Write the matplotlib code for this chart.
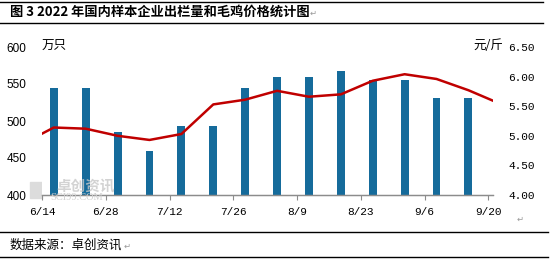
import matplotlib
matplotlib.use("Agg")
import matplotlib.pyplot as plt
import numpy as np
from datetime import date

plt.rcParams['font.family'] = ['Noto Sans CJK SC', 'DejaVu Sans']

# ---- data ----
title = "图 3 2022 年国内样本企业出栏量和毛鸡价格统计图"
source = "数据来源：卓创资讯"
left_unit = "万只"
right_unit = "元/斤"
tick_labels = ["6/14", "6/28", "7/12", "7/26", "8/9", "8/23", "9/6", "9/20"]
tick_dates = [(6, 14), (6, 28), (7, 12), (7, 26), (8, 9), (8, 23), (9, 6), (9, 20)]
bar_dates = [(6, 17), (6, 24), (7, 1), (7, 8), (7, 15), (7, 22), (7, 29),
             (8, 5), (8, 12), (8, 19), (8, 26), (9, 2), (9, 9), (9, 16)]
output = [544, 544, 485, 459, 493, 493, 545, 559, 559, 567, 555, 555, 531, 531]
line_dates = [(6, 10)] + bar_dates + [(9, 23)]
price = [4.86, 5.14, 5.12, 5.00, 4.93, 5.03, 5.53, 5.61, 5.76, 5.66, 5.70,
         5.93, 6.04, 5.96, 5.77, 5.54]
left_ticks = [400, 450, 500, 550, 600]
right_ticks = [4.00, 4.50, 5.00, 5.50, 6.00, 6.50]

base = date(2022, 6, 14)
def days(md):
    return (date(2022, md[0], md[1]) - base).days

shift = -0.4  # bar/point placement offset within the day
bx = np.array([days(d) for d in bar_dates]) + shift
lx = np.array([days(d) for d in line_dates]) + shift
tx = [days(d) for d in tick_dates]

W, H = 551, 261
fig = plt.figure(figsize=(W / 100, H / 100), dpi=100)
ax = fig.add_axes([42 / W, 1 - 195 / H, (493 - 42) / W, (195 - 47) / H])
ax2 = ax.twinx()

bar_color = '#156B9B'
ax.bar(bx, output, width=1.75, color=bar_color, zorder=2)
ax.set_ylim(400, 600)
ax.set_xlim(0, 99)
ax.set_yticks(left_ticks)
ax.set_yticklabels([str(v) for v in left_ticks], family='Liberation Sans', fontsize=8.5)
ax.tick_params(axis='y', length=0, pad=11)
ax.set_xticks(tx)
ax.set_xticklabels(tick_labels, family='Liberation Mono', fontsize=8)
ax.tick_params(axis='x', length=3.5, color='#8c8c8c', pad=5, width=0.8)

ax2.plot(lx, price, color='#C00000', lw=1.8, zorder=3, clip_on=True)
ax2.set_ylim(4.0, 6.5)
ax2.set_yticks(right_ticks)
ax2.set_yticklabels([f"{v:.2f}" for v in right_ticks], family='Liberation Mono', fontsize=8)
ax2.tick_params(axis='y', length=0, pad=11)
ax2.set_xlim(0, 99)

for a in (ax, ax2):
    for s in ('top', 'left', 'right'):
        a.spines[s].set_visible(False)
    a.spines['bottom'].set_color('#8c8c8c')
    a.spines['bottom'].set_linewidth(0.9)

ax.set_zorder(1)
ax2.set_zorder(2)
ax2.patch.set_visible(False)

# units
fig.text(42 / W, 1 - 46 / H, left_unit, fontsize=9, va='center', ha='left')
fig.text(503 / W, 1 - 46 / H, right_unit, fontsize=9, va='center', ha='right')

# watermark
fig.add_artist(plt.Rectangle((30 / W, 1 - 198 / H), 12 / W, 16 / H,
                             transform=fig.transFigure, color='#dcdcdc', zorder=0))
fig.text(56 / W, 1 - 185 / H, "卓创资讯", fontsize=10.5, color='#c8c8c8', alpha=0.8,
         va='center', ha='left', fontweight='bold')
fig.text(50 / W, 1 - 198 / H, "SCI99.COM", fontsize=7.5, color='#d0d0d0',
         family='Liberation Serif', va='center', ha='left')

# title & source with rules
fig.text(10 / W, 1 - 12 / H, title, fontsize=9.5, fontweight='bold', va='center', ha='left')
fig.text(10 / W, 1 - 245 / H, source, fontsize=9, va='center', ha='left')
for y, x1 in [(2, 543), (22.5, 543), (232, 548), (257, 548)]:
    fig.add_artist(plt.Line2D([0, x1 / W], [1 - y / H, 1 - y / H], color='black', lw=1.0))

# paragraph marks
for (px, py) in [(310, 13), (124, 246), (517, 219)]:
    fig.text(px / W, 1 - py / H, "↵", fontsize=6, color='#999999',
             family='DejaVu Sans', va='center', ha='left')

fig.savefig('out.png', dpi=100)
